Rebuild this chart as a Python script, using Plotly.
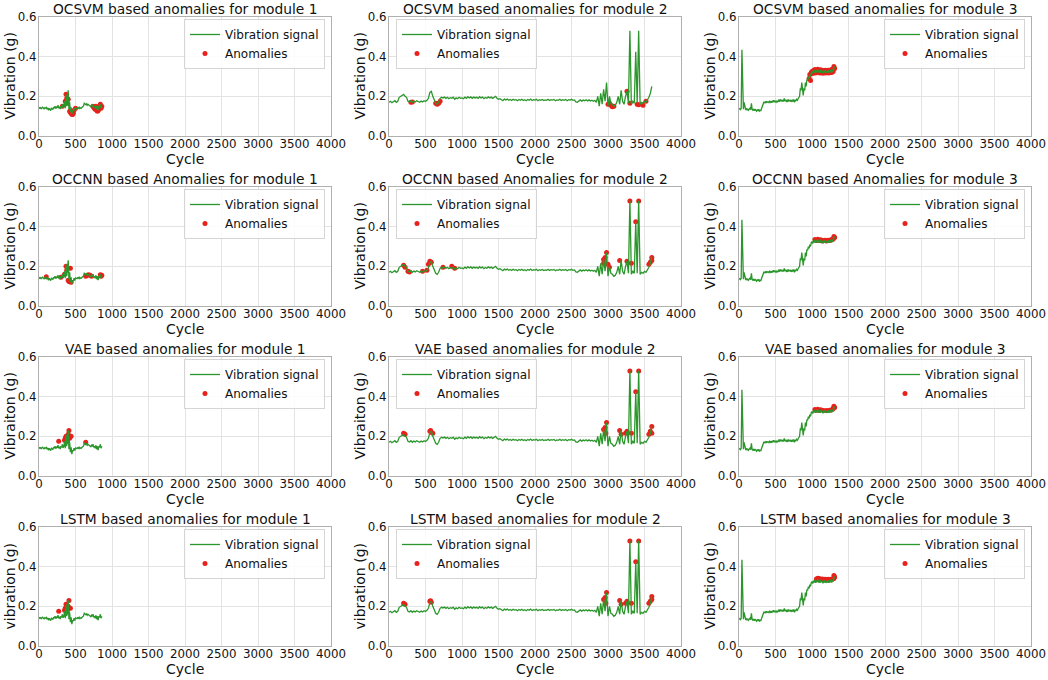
import plotly.graph_objects as go

# ---------------- data ----------------
m1_cycles = list(range(0, 861, 10))
m1_signal = [0.145, 0.140, 0.143, 0.138, 0.142, 0.145, 0.140, 0.137, 0.143, 0.140, 0.144,
             0.135, 0.142, 0.130, 0.140, 0.136, 0.128, 0.141, 0.138, 0.133, 0.145,
             0.140, 0.150, 0.138, 0.146, 0.142, 0.155, 0.140, 0.148, 0.136, 0.150,
             0.145, 0.160, 0.142, 0.150, 0.175, 0.140, 0.210, 0.150, 0.190, 0.230,
             0.135, 0.170, 0.120, 0.145, 0.110, 0.130, 0.125, 0.140, 0.128, 0.142,
             0.140, 0.138, 0.143, 0.140, 0.145, 0.138, 0.142, 0.140, 0.145, 0.148,
             0.152, 0.165, 0.160, 0.158, 0.162, 0.155, 0.160, 0.158, 0.155, 0.150,
             0.148, 0.155, 0.150, 0.160, 0.145, 0.150, 0.140, 0.155, 0.135, 0.150,
             0.130, 0.150, 0.145, 0.160, 0.140, 0.150]

m2_cycles = list(range(0, 3601, 20))
m2_signal = [0.170, 0.175, 0.168, 0.172, 0.178, 0.170, 0.175, 0.195, 0.200, 0.205,
             0.210, 0.200, 0.195, 0.175, 0.172, 0.178, 0.170, 0.176, 0.172, 0.178,
             0.175, 0.170, 0.176, 0.172, 0.178, 0.174, 0.180, 0.190, 0.220, 0.225,
             0.200, 0.185, 0.165, 0.160, 0.170, 0.190, 0.195, 0.192, 0.196, 0.190,
             0.195, 0.188, 0.193, 0.190, 0.196, 0.185, 0.192, 0.188, 0.195, 0.190,
             0.192, 0.188, 0.196, 0.190, 0.198, 0.192, 0.197, 0.190, 0.196, 0.192,
             0.195, 0.190, 0.198, 0.192, 0.196, 0.188, 0.194, 0.190, 0.197, 0.192,
             0.196, 0.190, 0.195, 0.200, 0.190, 0.185, 0.188, 0.182, 0.178, 0.186,
             0.182, 0.186, 0.180, 0.184, 0.179, 0.185, 0.181, 0.183, 0.178, 0.184,
             0.180, 0.185, 0.179, 0.183, 0.178, 0.184, 0.180, 0.186, 0.179, 0.183,
             0.181, 0.185, 0.178, 0.183, 0.180, 0.184, 0.179, 0.182, 0.180, 0.185,
             0.179, 0.183, 0.181, 0.184, 0.178, 0.182, 0.180, 0.185, 0.179, 0.183,
             0.180, 0.184, 0.178, 0.183, 0.181, 0.185, 0.180, 0.182, 0.172, 0.170,
             0.178, 0.182, 0.176, 0.181, 0.178, 0.183, 0.177, 0.182, 0.176, 0.180,
             0.175, 0.180, 0.170, 0.200, 0.150, 0.215, 0.160, 0.235, 0.175, 0.270,
             0.150, 0.200, 0.165, 0.160, 0.150, 0.155, 0.170, 0.200, 0.160, 0.230,
             0.175, 0.160, 0.200, 0.225, 0.165, 0.530, 0.160, 0.175, 0.165, 0.425,
             0.165, 0.530, 0.160, 0.170, 0.165, 0.175, 0.170, 0.180, 0.195, 0.215,
             0.250]

m3_cycles = list(range(0, 1311, 10))
m3_signal = [0.135, 0.138, 0.133, 0.140, 0.435, 0.160, 0.135, 0.170, 0.140, 0.135,
             0.138, 0.132, 0.136, 0.130, 0.135, 0.140, 0.133, 0.165, 0.135, 0.130,
             0.134, 0.128, 0.136, 0.130, 0.125, 0.132, 0.128, 0.135, 0.126, 0.130,
             0.128, 0.140, 0.150, 0.160, 0.170, 0.168, 0.172, 0.166, 0.175, 0.170,
             0.172, 0.168, 0.175, 0.170, 0.176, 0.168, 0.174, 0.180, 0.170, 0.176,
             0.172, 0.178, 0.170, 0.176, 0.180, 0.172, 0.185, 0.175, 0.182, 0.176,
             0.180, 0.174, 0.190, 0.176, 0.182, 0.175, 0.180, 0.172, 0.184, 0.178,
             0.176, 0.182, 0.172, 0.180, 0.175, 0.184, 0.170, 0.182, 0.178, 0.185,
             0.180, 0.188, 0.195, 0.200, 0.240, 0.230, 0.270, 0.220, 0.205, 0.240,
             0.230, 0.270, 0.250, 0.285, 0.280, 0.300, 0.290, 0.310, 0.300, 0.320,
             0.325, 0.315, 0.330, 0.320, 0.335, 0.318, 0.330, 0.322, 0.336, 0.320,
             0.330, 0.318, 0.334, 0.322, 0.328, 0.316, 0.330, 0.320, 0.332, 0.318,
             0.326, 0.320, 0.332, 0.318, 0.330, 0.322, 0.334, 0.320, 0.336, 0.325,
             0.350, 0.340]

# anomalies: module 1
ocsvm_m1_x = [320, 360, 370, 380, 390, 400, 420, 430, 440, 450, 460, 470, 480, 500,
              740, 750, 760, 770, 780, 790, 800, 810, 820, 830, 840, 850, 860]
ocsvm_m1_y = [0.150, 0.175, 0.210, 0.190, 0.165, 0.185, 0.125, 0.120, 0.115, 0.110, 0.108, 0.115, 0.130, 0.140,
              0.150, 0.145, 0.140, 0.135, 0.150, 0.130, 0.125, 0.128, 0.135, 0.145, 0.160, 0.140, 0.150]
occnn_m1_x = [100, 300, 350, 370, 380, 400, 410, 420, 430, 440, 640, 660, 680, 700, 720, 840, 850, 860]
occnn_m1_y = [0.148, 0.145, 0.160, 0.200, 0.180, 0.130, 0.125, 0.122, 0.190, 0.120, 0.150, 0.155, 0.158,
              0.155, 0.150, 0.158, 0.150, 0.155]
vae_m1_x = [270, 350, 360, 370, 380, 390, 400, 410, 420, 440, 640]
vae_m1_y = [0.175, 0.180, 0.190, 0.200, 0.185, 0.175, 0.210, 0.230, 0.190, 0.200, 0.170]
lstm_m1_x = [270, 350, 360, 370, 380, 390, 400, 410, 430]
lstm_m1_y = [0.175, 0.180, 0.190, 0.210, 0.170, 0.180, 0.200, 0.230, 0.190]

# anomalies: module 2
ocsvm_m2_x = [300, 320, 640, 660, 680, 700, 3000, 3020, 3040, 3060, 3080, 3260, 3300, 3400, 3420, 3480, 3520]
ocsvm_m2_y = [0.170, 0.172, 0.165, 0.160, 0.165, 0.175, 0.160, 0.165, 0.155, 0.148, 0.150, 0.225, 0.165,
              0.160, 0.158, 0.155, 0.175]
occnn_m2_x = [200, 220, 260, 280, 460, 520, 540, 560, 580, 740, 860, 900, 2940, 2940, 2960, 2980, 3000, 3020,
              3160, 3260, 3300, 3320, 3380, 3420, 3560, 3580, 3600, 3600]
occnn_m2_y = [0.205, 0.195, 0.175, 0.172, 0.175, 0.180, 0.210, 0.225, 0.220, 0.195, 0.200, 0.190, 0.235, 0.215,
              0.245, 0.270, 0.210, 0.195, 0.230, 0.225, 0.530, 0.215, 0.425, 0.530, 0.210, 0.220, 0.245, 0.230]
vae_m2_x = [200, 220, 560, 570, 580, 600, 2940, 2960, 2970, 2980, 3160, 3180, 3240, 3260, 3300, 3320, 3380,
            3420, 3560, 3580, 3600, 3600]
vae_m2_y = [0.215, 0.210, 0.225, 0.230, 0.220, 0.215, 0.235, 0.245, 0.215, 0.270, 0.230, 0.210, 0.215, 0.225,
            0.530, 0.215, 0.425, 0.530, 0.210, 0.225, 0.250, 0.215]
lstm_m2_x = [200, 220, 560, 570, 580, 2940, 2960, 2970, 2980, 3160, 3180, 3240, 3260, 3300, 3320, 3380, 3420,
             3560, 3580, 3600, 3600]
lstm_m2_y = [0.215, 0.210, 0.225, 0.228, 0.220, 0.235, 0.245, 0.215, 0.270, 0.230, 0.210, 0.215, 0.225, 0.530,
             0.215, 0.425, 0.530, 0.215, 0.225, 0.250, 0.235]

# anomalies: module 3
ocsvm_m3_x = [960, 970, 980, 990, 1000, 1010, 1020, 1030, 1040, 1050, 1060, 1070, 1080, 1090, 1100, 1110,
              1120, 1130, 1140, 1150, 1160, 1170, 1180, 1190, 1200, 1210, 1220, 1230, 1240, 1250, 1260,
              1270, 1280, 1290, 1300, 1310]
ocsvm_m3_y = [0.290, 0.310, 0.280, 0.320, 0.325, 0.315, 0.330, 0.320, 0.335, 0.318, 0.330, 0.322, 0.336,
              0.320, 0.330, 0.318, 0.334, 0.322, 0.328, 0.316, 0.330, 0.320, 0.332, 0.318, 0.326, 0.320,
              0.332, 0.318, 0.330, 0.322, 0.334, 0.320, 0.336, 0.325, 0.350, 0.340]
occnn_m3_x = [1040, 1060, 1080, 1100, 1120, 1140, 1160, 1180, 1200, 1220, 1240, 1260, 1280, 1290, 1300, 1310]
occnn_m3_y = [0.335, 0.330, 0.336, 0.330, 0.334, 0.328, 0.330, 0.332, 0.328, 0.332, 0.330, 0.334, 0.336,
              0.338, 0.350, 0.345]
vae_m3_x = [1040, 1060, 1080, 1100, 1120, 1160, 1200, 1240, 1280, 1290, 1300, 1310]
vae_m3_y = [0.335, 0.332, 0.336, 0.330, 0.334, 0.330, 0.330, 0.332, 0.336, 0.340, 0.352, 0.345]
lstm_m3_x = [1060, 1080, 1090, 1100, 1120, 1140, 1160, 1180, 1200, 1220, 1240, 1260, 1280, 1300, 1300, 1310]
lstm_m3_y = [0.338, 0.342, 0.336, 0.340, 0.335, 0.338, 0.334, 0.336, 0.335, 0.337, 0.333, 0.336, 0.338,
             0.355, 0.340, 0.348]

titles = ["OCSVM based anomalies for module 1", "OCSVM based anomalies for module 2", "OCSVM based anomalies for module 3",
          "OCCNN based Anomalies for module 1", "OCCNN based Anomalies for module 2", "OCCNN based Anomalies for module 3",
          "VAE based anomalies for module 1", "VAE based anomalies for module 2", "VAE based anomalies for module 3",
          "LSTM based anomalies for module 1", "LSTM based anomalies for module 2", "LSTM based anomalies for module 3"]
ylabels = ["Vibration (g)", "Vibration (g)", "Vibration (g)",
           "Vibration (g)", "Vibration (g)", "Vibration (g)",
           "Vibraiton (g)", "Vibraiton (g)", "Vibraiton (g)",
           "vibration (g)", "vibration (g)", "Vibration (g)"]
x_label = "Cycle"
x_ticks = [0, 500, 1000, 1500, 2000, 2500, 3000, 3500, 4000]
y_ticks = [0.0, 0.2, 0.4, 0.6]

signals = [(m1_cycles, m1_signal), (m2_cycles, m2_signal), (m3_cycles, m3_signal)]
anomalies = [
    [(ocsvm_m1_x, ocsvm_m1_y), (ocsvm_m2_x, ocsvm_m2_y), (ocsvm_m3_x, ocsvm_m3_y)],
    [(occnn_m1_x, occnn_m1_y), (occnn_m2_x, occnn_m2_y), (occnn_m3_x, occnn_m3_y)],
    [(vae_m1_x, vae_m1_y), (vae_m2_x, vae_m2_y), (vae_m3_x, vae_m3_y)],
    [(lstm_m1_x, lstm_m1_y), (lstm_m2_x, lstm_m2_y), (lstm_m3_x, lstm_m3_y)],
]

# ---------------- layout ----------------
W, H = 1048, 680
FONT = "DejaVu Sans"
GREEN = "#2b962b"
RED = "#e8211c"
col_left = [39, 389, 739]
plot_w = 292
row_top = [17, 187, 357, 527]
plot_h = 119

fig = go.Figure()
layout = dict(
    width=W, height=H, margin=dict(l=0, r=0, t=0, b=0, autoexpand=False),
    paper_bgcolor="white", plot_bgcolor="white",
    font=dict(family=FONT, size=12, color="#111"),
    annotations=[],
)

for r in range(4):
    for c in range(3):
        k = r * 3 + c + 1
        xa = "x" if k == 1 else f"x{k}"
        ya = "y" if k == 1 else f"y{k}"
        lg = "legend" if k == 1 else f"legend{k}"
        x0 = col_left[c] / W
        x1 = (col_left[c] + plot_w) / W
        y1 = 1 - row_top[r] / H
        y0 = 1 - (row_top[r] + plot_h) / H

        ax_x, ay_y = anomalies[r][c]
        sx, sy = signals[c]
        fig.add_trace(go.Scatter(x=ax_x, y=ay_y, mode="markers", name="Anomalies",
                                 marker=dict(color=RED, size=5, line=dict(width=0)),
                                 xaxis=xa, yaxis=ya, legend=lg))
        fig.add_trace(go.Scatter(x=sx, y=sy, mode="lines", name="Vibration signal",
                                 line=dict(color=GREEN, width=1.3),
                                 xaxis=xa, yaxis=ya, legend=lg))

        common = dict(showgrid=True, gridcolor="#e3e3e3", gridwidth=1, zeroline=False,
                      showline=True, linecolor="#b0b0b0", linewidth=1, mirror=True,
                      ticks="", automargin=False,
                      tickfont=dict(family=FONT, size=11.8, color="#111"))
        layout["xaxis" if k == 1 else f"xaxis{k}"] = dict(
            domain=[x0, x1], anchor=ya, range=[0, 4000], tickvals=x_ticks,
            ticklabelstandoff=-3, **common)
        layout["yaxis" if k == 1 else f"yaxis{k}"] = dict(
            domain=[y0, y1], anchor=xa, range=[0, 0.6], tickvals=y_ticks, tickformat=".1f",
            ticklabelstandoff=-1, **common)

        if c == 1:
            lx, xanchor = (col_left[c] + 7) / W, "left"
        else:
            lx, xanchor = (col_left[c] + plot_w - 6) / W, "right"
        layout[lg] = dict(x=lx, xanchor=xanchor, y=1 - (row_top[r] + 2) / H, yanchor="top",
                          bgcolor="rgba(255,255,255,0.85)", bordercolor="#d5d5d5", borderwidth=1,
                          font=dict(family=FONT, size=12, color="#111"), traceorder="reversed",
                          itemwidth=30, tracegroupgap=0)

        # subplot title
        layout["annotations"].append(dict(
            text=titles[k - 1], x=(x0 + x1) / 2, y=1 - (row_top[r] - 8) / H, xref="paper", yref="paper",
            xanchor="center", yanchor="middle", showarrow=False,
            font=dict(family=FONT, size=13.8, color="#111")))
        # x-axis title
        layout["annotations"].append(dict(
            text=x_label, x=(x0 + x1) / 2, y=1 - (row_top[r] + plot_h + 23) / H, xref="paper", yref="paper",
            xanchor="center", yanchor="middle", showarrow=False,
            font=dict(family=FONT, size=14, color="#111")))
        # y-axis title
        layout["annotations"].append(dict(
            text=ylabels[k - 1], x=(col_left[c] - 30) / W, y=(y0 + y1) / 2, xref="paper", yref="paper",
            xanchor="center", yanchor="middle", textangle=-90, showarrow=False,
            font=dict(family=FONT, size=14, color="#111")))

fig.update_layout(**layout)
fig.write_html("out.html", config={"displayModeBar": False},
               post_script="document.body.style.margin='0px';document.body.style.overflow='hidden';")
